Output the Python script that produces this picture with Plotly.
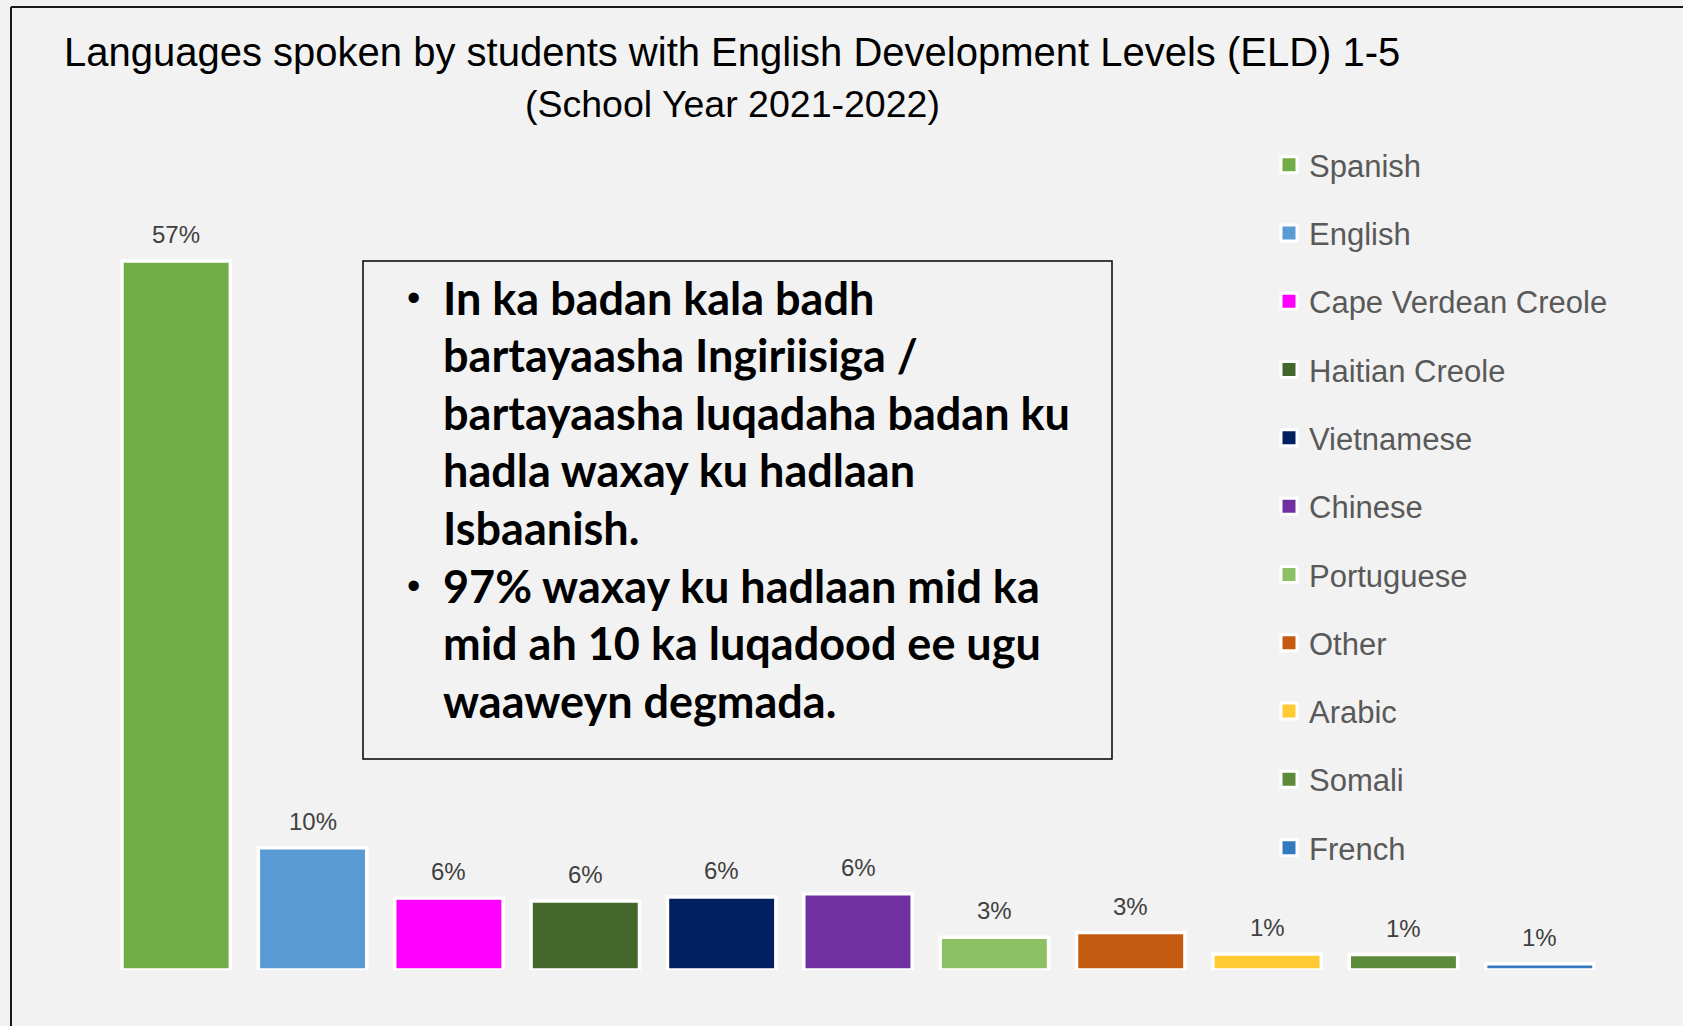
import plotly.graph_objects as go

# ---- data ----
languages = ["Spanish", "English", "Cape Verdean Creole", "Haitian Creole", "Vietnamese",
             "Chinese", "Portuguese", "Other", "Arabic", "Somali", "French"]
shares = [57.0, 9.83, 5.78, 5.54, 5.86, 6.13, 2.64, 3.02, 1.28, 1.25, 0.5]
share_labels = ["57%", "10%", "6%", "6%", "6%", "6%", "3%", "3%", "1%", "1%", "1%"]
colors = ["#70AD47", "#5B9BD5", "#FF00FF", "#43682B", "#002060", "#7030A0",
          "#8DC063", "#C55A11", "#FFCA33", "#5B8B3B", "#3479C0"]

title_text = "Languages spoken by students with English Development Levels (ELD) 1-5"
subtitle_text = "(School Year 2021-2022)"
box_lines = [
    "In ka badan kala badh",
    "bartayaasha Ingiriisiga /",
    "bartayaasha luqadaha badan ku",
    "hadla waxay ku hadlaan",
    "Isbaanish.",
    "97% waxay ku hadlaan mid ka",
    "mid ah 10 ka luqadood ee ugu",
    "waaweyn degmada.",
]
bullet_lines = [0, 5]

# ---- layout geometry (pixels) ----
W, H = 1683, 1026
ML, MR, MT, MB = 108, 75, 130, 56
PW, PH = W - ML - MR, H - MT - MB
PX_PER_PCT = 12.44
YMAX = PH / PX_PER_PCT


def px_x(p):
    return (p - ML) / PW


def px_y(p):
    return (H - MB - p) / PH


FONT = "Liberation Sans, Arial, sans-serif"

fig = go.Figure()
for lang, v, c in zip(languages, shares, colors):
    fig.add_trace(go.Bar(
        x=[lang], y=[v], name=lang, legendgroup=lang, showlegend=False,
        marker=dict(color=c, line=dict(color="white", width=3.5)),
        width=0.795, hoverinfo="x+y",
    ))
    # legend entry with a larger square swatch
    fig.add_trace(go.Scatter(
        x=[None], y=[None], name=lang, legendgroup=lang, mode="markers",
        marker=dict(symbol="square", size=16, color=c, line=dict(color="white", width=3)),
        hoverinfo="skip",
    ))

annotations = []
for lang, v, lab in zip(languages, shares, share_labels):
    annotations.append(dict(
        x=lang, y=v, xref="x", yref="y", text=lab, showarrow=False,
        yanchor="middle", xanchor="center", yshift=26.4,
        font=dict(family=FONT, size=24, color="#404040"),
    ))

annotations.append(dict(
    x=px_x(62), y=px_y(52.1), xref="paper", yref="paper", text=title_text,
    showarrow=False, xanchor="left", yanchor="middle",
    font=dict(family=FONT, size=40, color="black"),
))
annotations.append(dict(
    x=px_x(732.5), y=px_y(104.3), xref="paper", yref="paper", text=subtitle_text,
    showarrow=False, xanchor="center", yanchor="middle",
    font=dict(family=FONT, size=37.5, color="black"),
))

BOX_FS = 45
for i, line in enumerate(box_lines):
    baseline = 315 + i * 57.6
    cy = baseline - 0.387 * BOX_FS
    annotations.append(dict(
        x=px_x(441), y=px_y(cy), xref="paper", yref="paper", text="<b>" + line + "</b>",
        showarrow=False, xanchor="left", yanchor="middle",
        font=dict(family="Lato, sans-serif", size=BOX_FS, color="black"),
    ))
    if i in bullet_lines:
        annotations.append(dict(
            x=px_x(413), y=px_y(cy), xref="paper", yref="paper", text="•",
            showarrow=False, xanchor="center", yanchor="middle",
            font=dict(family="Liberation Sans, Arial, sans-serif", size=38, color="black"),
        ))

shapes = [
    dict(type="rect", xref="paper", yref="paper",
         x0=px_x(363), x1=px_x(1112), y0=px_y(261), y1=px_y(759),
         line=dict(color="black", width=1.5), fillcolor="rgba(0,0,0,0)", layer="above"),
    dict(type="line", xref="paper", yref="paper",
         x0=px_x(11), x1=px_x(11), y0=px_y(7), y1=px_y(H + 5),
         line=dict(color="#1a1a1a", width=2)),
    dict(type="line", xref="paper", yref="paper",
         x0=px_x(11), x1=px_x(W + 5), y0=px_y(7), y1=px_y(7),
         line=dict(color="#1a1a1a", width=2)),
]

fig.update_layout(
    width=W, height=H, autosize=False,
    margin=dict(l=ML, r=MR, t=MT, b=MB, pad=0),
    paper_bgcolor="#F2F2F2", plot_bgcolor="#F2F2F2",
    barmode="overlay",
    showlegend=True,
    legend=dict(
        x=px_x(1269), y=px_y(138), xanchor="left", yanchor="top",
        xref="paper", yref="paper",
        font=dict(family=FONT, size=31, color="#595959"),
        bgcolor="rgba(0,0,0,0)", tracegroupgap=25, traceorder="grouped",
        itemsizing="trace",
    ),
    xaxis=dict(visible=False, range=[-0.5, len(languages) - 0.5],
               categoryorder="array", categoryarray=languages),
    yaxis=dict(visible=False, range=[0, YMAX]),
    annotations=annotations,
    shapes=shapes,
)

fig.write_html("out.html", config={"displayModeBar": False},
               post_script="document.body.style.margin='0';document.body.style.overflow='hidden';")
